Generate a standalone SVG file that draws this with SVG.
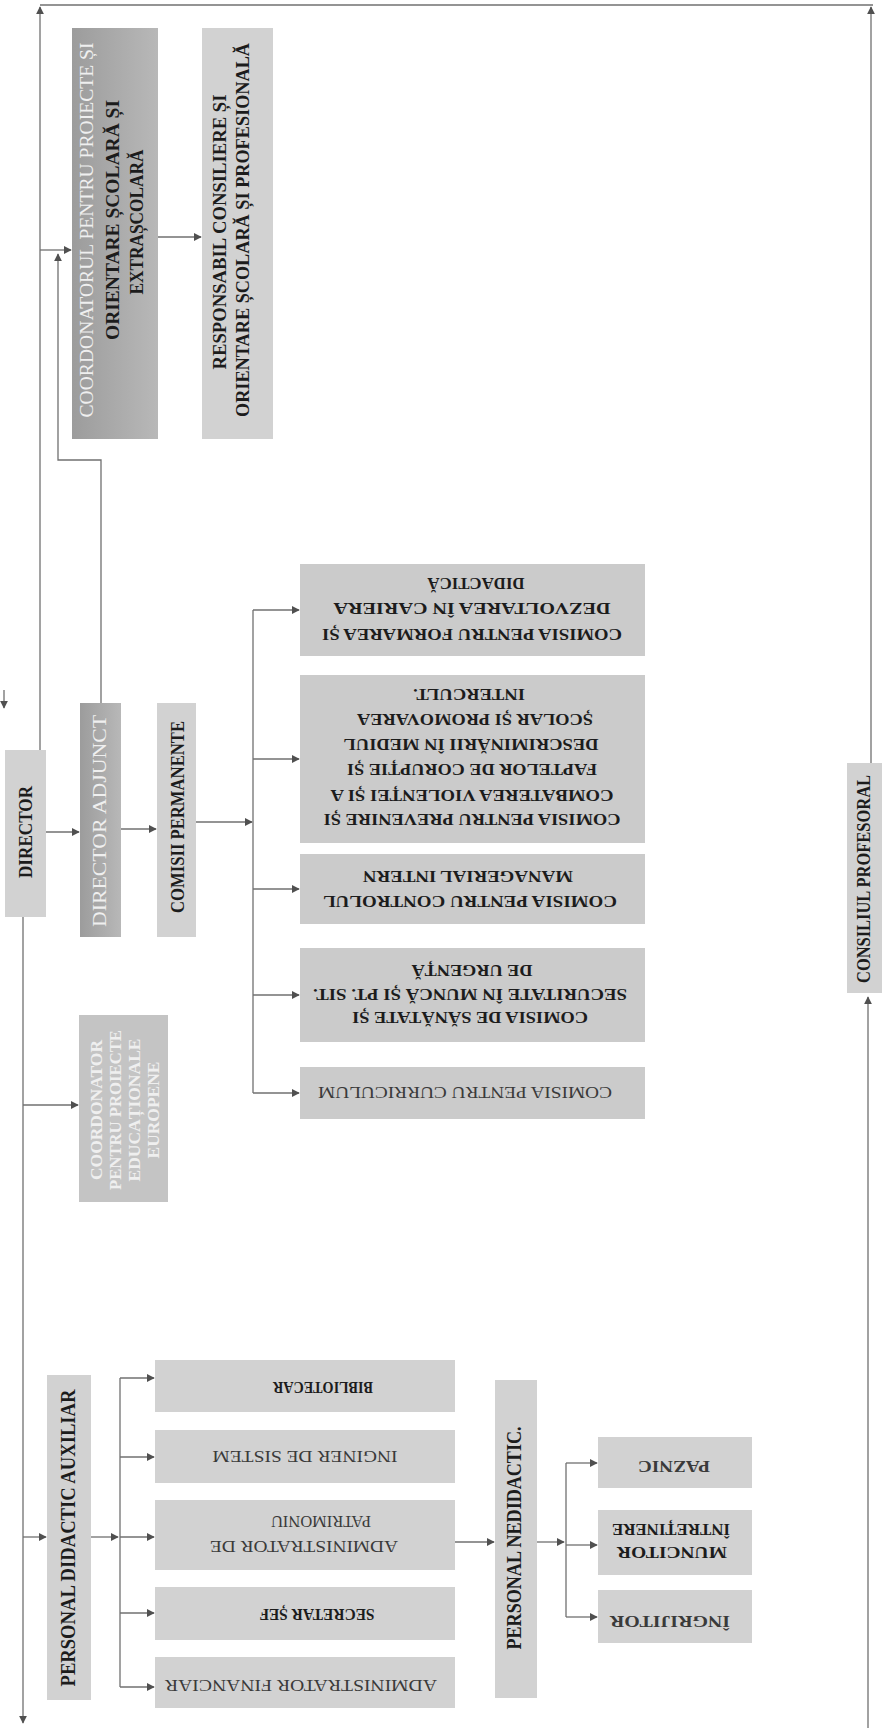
<svg xmlns="http://www.w3.org/2000/svg" width="882" height="1728" viewBox="0 0 882 1728">
<style>
.bx{fill:#d2d2d2}
.cm{fill:#cbcbcb}
.dk{fill:url(#dg)}
.eu{fill:#c4c4c4}
.t{font-family:"Liberation Serif","Times New Roman",serif;fill:#1c1c1c;text-anchor:middle}
.b{font-weight:bold}
.lt{fill:#efefef}
.gr{fill:#3a3a3a}
.cn{fill:none;stroke:#707070;stroke-width:1.3}
.ar{marker-end:url(#ah)}
</style>
<defs>
<linearGradient id="dg" x1="0" y1="0" x2="1" y2="0">
<stop offset="0" stop-color="#9c9c9c"/>
<stop offset="1" stop-color="#b8b8b8"/>
</linearGradient>
<marker id="ah" viewBox="0 0 10 10" refX="9" refY="5" markerWidth="8" markerHeight="8" orient="auto" markerUnits="userSpaceOnUse">
<path d="M0,0 L10,5 L0,10 z" fill="#505050"/>
</marker>
</defs>

<g id="connectors">
<path class="cn" d="M40,5 H873"/>
<path class="cn ar" d="M40,750 V7"/>
<path class="cn ar" d="M871,763 V7"/>
<path class="cn ar" d="M868,1728 V997"/>
<path class="cn ar" d="M4,690 V708"/>
<path class="cn ar" d="M40,250 H71"/>
<path class="cn ar" d="M101,703 V460 H58 V254"/>
<path class="cn ar" d="M158,237 H201"/>
<path class="cn ar" d="M46,832 H79"/>
<path class="cn ar" d="M121,829 H156"/>
<path class="cn ar" d="M196,822 H252"/>
<path class="cn" d="M253,610 V1093"/>
<path class="cn ar" d="M253,610 H299"/>
<path class="cn ar" d="M253,759 H299"/>
<path class="cn ar" d="M253,889 H299"/>
<path class="cn ar" d="M253,995 H299"/>
<path class="cn ar" d="M253,1093 H299"/>
<path class="cn ar" d="M23,917 V1723"/>
<path class="cn ar" d="M23,1105 H78"/>
<path class="cn ar" d="M23,1537 H46"/>
<path class="cn ar" d="M91,1537 H118"/>
<path class="cn" d="M120,1378 V1687"/>
<path class="cn ar" d="M120,1378 H154"/>
<path class="cn ar" d="M120,1457 H154"/>
<path class="cn ar" d="M120,1537 H154"/>
<path class="cn ar" d="M120,1613 H154"/>
<path class="cn ar" d="M120,1687 H154"/>
<path class="cn ar" d="M455,1542 H494"/>
<path class="cn ar" d="M537,1542 H564"/>
<path class="cn" d="M566,1463 V1617"/>
<path class="cn ar" d="M566,1463 H597"/>
<path class="cn ar" d="M566,1545 H597"/>
<path class="cn ar" d="M566,1617 H597"/>
</g>

<g id="coordonatorul">
<rect class="dk" x="72" y="28" width="86" height="411"/>
<text class="t lt" x="87" y="236.3" transform="rotate(-90,87,230)" font-size="18" textLength="375" lengthAdjust="spacingAndGlyphs">COORDONATORUL PENTRU PROIECTE ȘI</text>
<text class="t b" x="113" y="226.3" transform="rotate(-90,113,220)" font-size="18" textLength="240" lengthAdjust="spacingAndGlyphs">ORIENTARE ȘCOLARĂ ȘI</text>
<text class="t b" x="137" y="228.3" transform="rotate(-90,137,222)" font-size="18" textLength="145" lengthAdjust="spacingAndGlyphs">EXTRAȘCOLARĂ</text>
</g>

<g id="responsabil">
<rect class="bx" x="202" y="28" width="71" height="411"/>
<text class="t b" x="220" y="238.3" transform="rotate(-90,220,232)" font-size="18" textLength="275" lengthAdjust="spacingAndGlyphs">RESPONSABIL CONSILIERE ȘI</text>
<text class="t b" x="243" y="236.3" transform="rotate(-90,243,230)" font-size="18" textLength="374" lengthAdjust="spacingAndGlyphs">ORIENTARE ȘCOLARĂ ȘI PROFESIONALĂ</text>
</g>

<g id="director">
<rect class="bx" x="5" y="750" width="41" height="167"/>
<text class="t b" x="25" y="838.7" transform="rotate(-90,25,832)" font-size="19" textLength="92" lengthAdjust="spacingAndGlyphs">DIRECTOR</text>
</g>

<g id="director-adjunct">
<rect class="dk" x="80" y="703" width="41" height="234"/>
<text class="t lt" x="99" y="827.7" transform="rotate(-90,99,821)" font-size="19" textLength="212" lengthAdjust="spacingAndGlyphs">DIRECTOR ADJUNCT</text>
</g>

<g id="comisii-permanente">
<rect class="bx" x="157" y="703" width="39" height="234"/>
<text class="t b" x="177" y="823.7" transform="rotate(-90,177,817)" font-size="19" textLength="192" lengthAdjust="spacingAndGlyphs">COMISII PERMANENTE</text>
</g>

<g id="coordonator-europene">
<rect class="eu" x="79" y="1015" width="89" height="187"/>
<text class="t b lt" x="96" y="1116" transform="rotate(-90,96,1110)" font-size="17" textLength="140" lengthAdjust="spacingAndGlyphs">COORDONATOR</text>
<text class="t b lt" x="115" y="1116" transform="rotate(-90,115,1110)" font-size="17" textLength="160" lengthAdjust="spacingAndGlyphs">PENTRU PROIECTE</text>
<text class="t b lt" x="134" y="1116" transform="rotate(-90,134,1110)" font-size="17" textLength="143" lengthAdjust="spacingAndGlyphs">EDUCAȚIONALE</text>
<text class="t b lt" x="153" y="1116" transform="rotate(-90,153,1110)" font-size="17" textLength="97" lengthAdjust="spacingAndGlyphs">EUROPENE</text>
</g>

<g id="comisia-formare">
<rect class="cm" x="300" y="564" width="345" height="92"/>
<text class="t b" x="472" y="640.6" transform="rotate(180,472,635)" font-size="16" textLength="300" lengthAdjust="spacingAndGlyphs">COMISIA PENTRU FORMAREA ȘI</text>
<text class="t b" x="472" y="614.6" transform="rotate(180,472,609)" font-size="16" textLength="277" lengthAdjust="spacingAndGlyphs">DEZVOLTAREA ÎN CARIERA</text>
<text class="t b" x="476" y="589.6" transform="rotate(180,476,584)" font-size="16" textLength="97" lengthAdjust="spacingAndGlyphs">DIDACTICĂ</text>
</g>

<g id="comisia-prevenire">
<rect class="cm" x="300" y="675" width="345" height="168"/>
<text class="t b" x="472" y="825.6" transform="rotate(180,472,820)" font-size="16" textLength="297" lengthAdjust="spacingAndGlyphs">COMISIA PENTRU PREVENIRE ȘI</text>
<text class="t b" x="472" y="801.6" transform="rotate(180,472,796)" font-size="16" textLength="283" lengthAdjust="spacingAndGlyphs">COMBATEREA VIOLENȚEI ȘI A</text>
<text class="t b" x="472" y="775.6" transform="rotate(180,472,770)" font-size="16" textLength="250" lengthAdjust="spacingAndGlyphs">FAPTELOR DE CORUPȚIE ȘI</text>
<text class="t b" x="471" y="750.6" transform="rotate(180,471,745)" font-size="16" textLength="255" lengthAdjust="spacingAndGlyphs">DESCRIMINĂRII ÎN MEDIUL</text>
<text class="t b" x="475" y="725.6" transform="rotate(180,475,720)" font-size="16" textLength="236" lengthAdjust="spacingAndGlyphs">ȘCOLAR ȘI PROMOVAREA</text>
<text class="t b" x="469" y="700.6" transform="rotate(180,469,695)" font-size="16" textLength="112" lengthAdjust="spacingAndGlyphs">INTERCULT.</text>
</g>

<g id="comisia-control">
<rect class="cm" x="300" y="854" width="345" height="70"/>
<text class="t b" x="470" y="907.6" transform="rotate(180,470,902)" font-size="16" textLength="294" lengthAdjust="spacingAndGlyphs">COMISIA PENTRU CONTROLUL</text>
<text class="t b" x="468" y="882.6" transform="rotate(180,468,877)" font-size="16" textLength="210" lengthAdjust="spacingAndGlyphs">MANAGERIAL INTERN</text>
</g>

<g id="comisia-sanatate">
<rect class="cm" x="300" y="948" width="345" height="94"/>
<text class="t b" x="470" y="1023.6" transform="rotate(180,470,1018)" font-size="16" textLength="236" lengthAdjust="spacingAndGlyphs">COMISIA DE SĂNĂTATE ȘI</text>
<text class="t b" x="470" y="1000.6" transform="rotate(180,470,995)" font-size="16" textLength="314" lengthAdjust="spacingAndGlyphs">SECURITATE ÎN MUNCĂ ȘI PT. SIT.</text>
<text class="t b" x="472" y="976.6" transform="rotate(180,472,971)" font-size="16" textLength="121" lengthAdjust="spacingAndGlyphs">DE URGENȚĂ</text>
</g>

<g id="comisia-curriculum">
<rect class="cm" x="300" y="1067" width="345" height="52"/>
<text class="t gr" x="465" y="1098.6" transform="rotate(180,465,1093)" font-size="16" textLength="294" lengthAdjust="spacingAndGlyphs">COMISIA PENTRU CURRICULUM</text>
</g>

<g id="personal-didactic-auxiliar">
<rect class="bx" x="47" y="1375" width="44" height="325"/>
<text class="t b" x="68" y="1545" transform="rotate(-90,68,1538)" font-size="20" textLength="297" lengthAdjust="spacingAndGlyphs">PERSONAL DIDACTIC AUXILIAR</text>
</g>

<g id="bibliotecar">
<rect class="bx" x="155" y="1360" width="300" height="52"/>
<text class="t b" x="323" y="1393.6" transform="rotate(180,323,1388)" font-size="16" textLength="100" lengthAdjust="spacingAndGlyphs">BIBLIOTECAR</text>
</g>

<g id="inginer">
<rect class="bx" x="155" y="1430" width="300" height="53"/>
<text class="t gr" x="305" y="1462.6" transform="rotate(180,305,1457)" font-size="16" textLength="185" lengthAdjust="spacingAndGlyphs">INGINER DE SISTEM</text>
</g>

<g id="administrator-patrimoniu">
<rect class="bx" x="155" y="1500" width="300" height="70"/>
<text class="t gr" x="304" y="1552.6" transform="rotate(180,304,1547)" font-size="16" textLength="188" lengthAdjust="spacingAndGlyphs">ADMINISTRATOR DE</text>
<text class="t gr" x="321" y="1527.6" transform="rotate(180,321,1522)" font-size="16" textLength="100" lengthAdjust="spacingAndGlyphs">PATRIMONIU</text>
</g>

<g id="secretar">
<rect class="bx" x="155" y="1587" width="300" height="53"/>
<text class="t b" x="317" y="1620.6" transform="rotate(180,317,1615)" font-size="16" textLength="115" lengthAdjust="spacingAndGlyphs">SECRETAR ȘEF</text>
</g>

<g id="administrator-financiar">
<rect class="bx" x="155" y="1657" width="300" height="51"/>
<text class="t gr" x="301" y="1691.6" transform="rotate(180,301,1686)" font-size="16" textLength="272" lengthAdjust="spacingAndGlyphs">ADMINISTRATOR FINANCIAR</text>
</g>

<g id="personal-nedidactic">
<rect class="bx" x="495" y="1380" width="42" height="318"/>
<text class="t b" x="514" y="1545" transform="rotate(-90,514,1538)" font-size="20" textLength="223" lengthAdjust="spacingAndGlyphs">PERSONAL NEDIDACTIC.</text>
</g>

<g id="paznic">
<rect class="bx" x="598" y="1437" width="154" height="51"/>
<text class="t b gr" x="674" y="1472.6" transform="rotate(180,674,1467)" font-size="16" textLength="72" lengthAdjust="spacingAndGlyphs">PAZNIC</text>
</g>

<g id="muncitor">
<rect class="bx" x="598" y="1510" width="154" height="65"/>
<text class="t b" x="672" y="1558.6" transform="rotate(180,672,1553)" font-size="16" textLength="110" lengthAdjust="spacingAndGlyphs">MUNCITOR</text>
<text class="t b" x="671" y="1535.6" transform="rotate(180,671,1530)" font-size="16" textLength="118" lengthAdjust="spacingAndGlyphs">ÎNTREȚINERE</text>
</g>

<g id="ingrijitor">
<rect class="bx" x="598" y="1590" width="154" height="53"/>
<text class="t b gr" x="670" y="1627.6" transform="rotate(180,670,1622)" font-size="16" textLength="120" lengthAdjust="spacingAndGlyphs">ÎNGRIJITOR</text>
</g>

<g id="consiliul-profesoral">
<rect class="bx" x="847" y="763" width="35" height="230"/>
<text class="t b" x="864" y="885.3" transform="rotate(-90,864,879)" font-size="18" textLength="208" lengthAdjust="spacingAndGlyphs">CONSILIUL PROFESORAL</text>
</g>
</svg>
